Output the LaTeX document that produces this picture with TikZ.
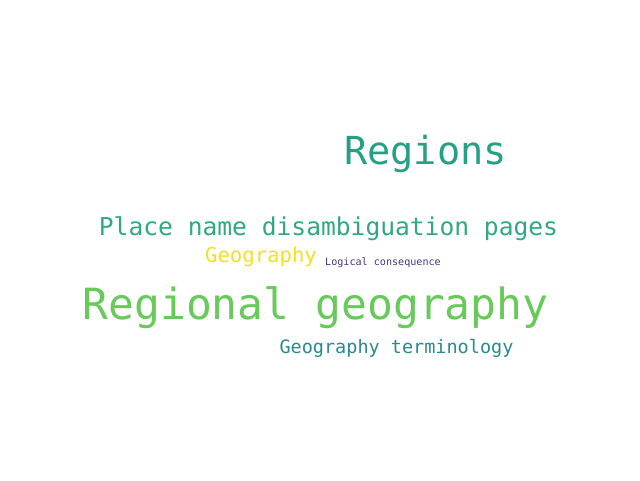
\documentclass[tikz,border=0pt]{standalone}
\usepackage{fontspec}
\newfontfamily\cloudfont{DejaVu Sans Mono}
\definecolor{cRegions}{HTML}{25A085}
\definecolor{cPlace}{HTML}{30A884}
\definecolor{cGeo}{HTML}{F5E01E}
\definecolor{cLogic}{HTML}{463480}
\definecolor{cRegional}{HTML}{68CA5A}
\definecolor{cTerm}{HTML}{2A8A8E}
\tikzset{word/.style={inner sep=0pt, anchor=base, font=\cloudfont}}
\begin{document}
\begin{tikzpicture}[x=1pt,y=-1pt]
\useasboundingbox[fill=white] (0,0) rectangle (640,480);
\node[word, text=cRegions, font=\cloudfont\fontsize{38.6}{39}\selectfont] (regions) at (425.5,164) {Regions};
\node[word, text=cPlace, font=\cloudfont\fontsize{24.6}{25}\selectfont] (place) at (328.5,235) {Place name disambiguation pages};
\node[word, text=cGeo, font=\cloudfont\fontsize{20.6}{21}\selectfont] (geo) at (261,262) {Geography};
\node[word, text=cLogic, font=\cloudfont\fontsize{10.1}{10}\selectfont] (logic) at (383,265) {Logical consequence};
\node[word, text=cRegional, font=\cloudfont\fontsize{43}{44}\selectfont] (regional) at (315.5,319) {Regional geography};
\node[word, text=cTerm, font=\cloudfont\fontsize{18.5}{19}\selectfont] (term) at (396.5,353) {Geography terminology};
\end{tikzpicture}
\end{document}
